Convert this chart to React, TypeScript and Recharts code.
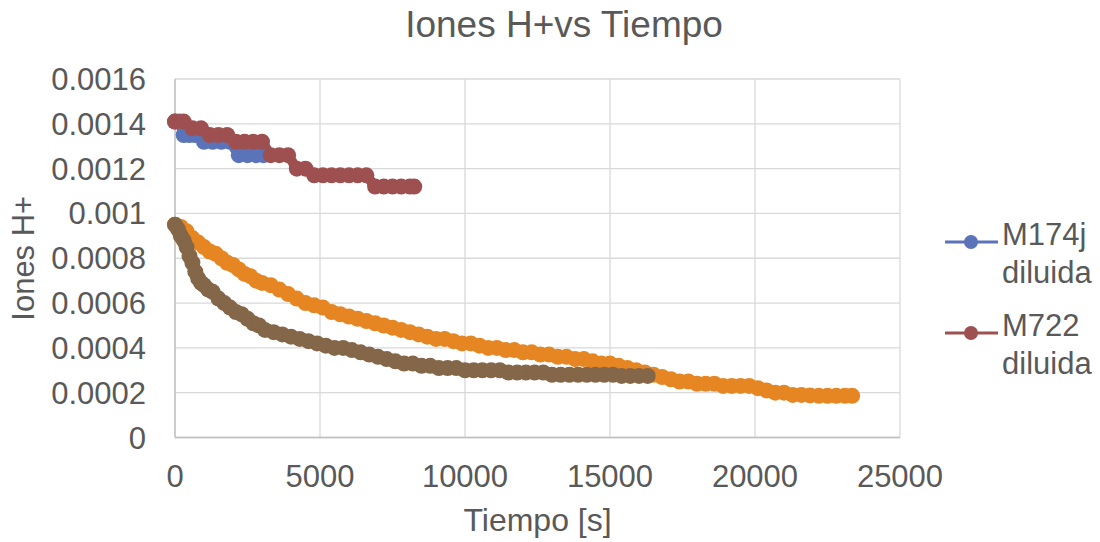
import React from 'react';
import { LineChart, Line, XAxis, YAxis, CartesianGrid } from 'recharts';

// tiempo [s] y concentracion de H+
const m174jTime = [0, 150, 300, 500, 700, 1000, 1300, 1600, 1900, 2200, 2500, 2800, 3050];
const m174jH = [0.00141, 0.00141, 0.00135, 0.00135, 0.00135, 0.00132, 0.00132, 0.00132, 0.00132, 0.00126, 0.00126, 0.00126, 0.00126];

const m722Time = [0, 300, 600, 900, 1200, 1500, 1800, 2100, 2400, 2700, 3000, 3300, 3600, 3900, 4200, 4500, 4800, 5100, 5400, 5700, 6000, 6300, 6600, 6900, 7200, 7500, 7800, 8100, 8250];
const m722H = [0.00141, 0.00141, 0.00138, 0.00138, 0.00135, 0.00135, 0.00135, 0.00132, 0.00132, 0.00132, 0.00132, 0.00126, 0.00126, 0.00126, 0.0012, 0.0012, 0.00117, 0.00117, 0.00117, 0.00117, 0.00117, 0.00117, 0.00117, 0.00112, 0.00112, 0.00112, 0.00112, 0.00112, 0.00112];

const orangeTime = [0, 200, 400, 600, 800, 1000, 1200, 1400, 1600, 1800, 2000, 2200, 2400, 2600, 2800, 3000, 3300, 3600, 3900, 4200, 4500, 4800, 5100, 5400, 5700, 6000, 6300, 6600, 6900, 7200, 7500, 7800, 8100, 8400, 8700, 9000, 9300, 9600, 9900, 10200, 10500, 10800, 11100, 11400, 11700, 12000, 12300, 12600, 12900, 13200, 13500, 13800, 14100, 14400, 14700, 15000, 15300, 15600, 15900, 16200, 16500, 16800, 17100, 17400, 17700, 18000, 18300, 18600, 18900, 19200, 19500, 19800, 20100, 20400, 20700, 21000, 21300, 21600, 21900, 22200, 22500, 22800, 23100, 23350];
const orangeH = [0.00095, 0.00094, 0.00092, 0.00089, 0.00087, 0.00085, 0.00083, 0.00082, 0.0008, 0.00078, 0.00077, 0.00075, 0.00073, 0.00072, 0.0007, 0.00069, 0.00068, 0.00066, 0.00064, 0.00062, 0.0006, 0.00059, 0.00058, 0.00056, 0.00055, 0.00054, 0.00053, 0.00052, 0.00051, 0.0005, 0.00049, 0.00048, 0.00047, 0.00046, 0.00045, 0.00044, 0.00044, 0.00043, 0.00042, 0.00042, 0.00041, 0.0004, 0.0004, 0.00039, 0.00039, 0.00038, 0.00038, 0.00037, 0.00037, 0.00036, 0.00036, 0.00035, 0.00035, 0.00034, 0.00033, 0.00033, 0.00032, 0.00031, 0.0003, 0.00029, 0.00028, 0.00027, 0.00026, 0.00025, 0.00025, 0.00024, 0.00024, 0.00024, 0.00023, 0.00023, 0.00023, 0.00023, 0.00022, 0.00021, 0.0002, 0.0002, 0.00019, 0.00019, 0.000188, 0.000186, 0.000186, 0.000186, 0.000186, 0.000186];

const brownTime = [0, 100, 200, 300, 400, 500, 600, 700, 800, 900, 1000, 1150, 1300, 1500, 1700, 1900, 2100, 2300, 2500, 2700, 2900, 3100, 3400, 3700, 4000, 4300, 4600, 4900, 5200, 5500, 5800, 6100, 6400, 6700, 7000, 7300, 7600, 7900, 8200, 8500, 8800, 9100, 9400, 9700, 10000, 10300, 10600, 10900, 11200, 11500, 11800, 12100, 12400, 12700, 13000, 13300, 13600, 13900, 14200, 14500, 14800, 15100, 15400, 15700, 16000, 16300];
const brownH = [0.00095, 0.00093, 0.0009, 0.00088, 0.00085, 0.00081, 0.00078, 0.00074, 0.00071, 0.00069, 0.00068, 0.00066, 0.00065, 0.00062, 0.0006, 0.00058, 0.00056, 0.00055, 0.00053, 0.00051, 0.0005, 0.00048, 0.00047, 0.00046, 0.00045, 0.00044, 0.00043, 0.00042, 0.00041, 0.0004, 0.0004, 0.00039, 0.00038, 0.00037, 0.00036, 0.00035, 0.00034, 0.00033, 0.00033, 0.00032, 0.00032, 0.00031, 0.00031, 0.00031, 0.0003, 0.0003, 0.0003, 0.0003, 0.0003, 0.00029, 0.00029, 0.00029, 0.00029, 0.00029, 0.00028, 0.00028, 0.00028, 0.00028, 0.00028, 0.00028, 0.00028, 0.00028, 0.000275, 0.000275, 0.000275, 0.000275];

const xTicks = [0, 5000, 10000, 15000, 20000, 25000];
const yTicks = [0, 0.0002, 0.0004, 0.0006, 0.0008, 0.001, 0.0012, 0.0014, 0.0016];

const toRows = (time: number[], h: number[]) => time.map((t, i) => ({ t, h: h[i] }));

const series = [
  { name: 'M174j diluida', color: '#5B73B8', data: toRows(m174jTime, m174jH), legend: true },
  { name: 'M722 diluida', color: '#9E5050', data: toRows(m722Time, m722H), legend: true },
  { name: 'serie 3', color: '#E68622', data: toRows(orangeTime, orangeH), legend: false },
  { name: 'serie 4', color: '#846648', data: toRows(brownTime, brownH), legend: false },
];

const FONT = '"Liberation Sans", Arial, sans-serif';
const TEXT = '#595959';

const LegendBox = () => (
  <div style={{ position: 'absolute', left: 944, top: 216, fontFamily: FONT, fontSize: 31, color: TEXT }}>
    {series.filter((s) => s.legend).map((s) => {
      const [first, second] = s.name.split(' ');
      return (
        <div key={s.name} style={{ display: 'flex', alignItems: 'flex-start', marginBottom: 15 }}>
          <svg width={58} height={38} style={{ flex: 'none' }}>
            <line x1={1} x2={54} y1={26} y2={26} stroke={s.color} strokeWidth={3} />
            <circle cx={27} cy={26} r={7} fill={s.color} />
          </svg>
          <div style={{ lineHeight: '38px' }}>
            <div>{first}</div>
            <div>{second}</div>
          </div>
        </div>
      );
    })}
  </div>
);

export default function App() {
  return (
    <div style={{ position: 'absolute', left: 0, top: 0, width: 1100, height: 542, background: '#fff' }}>
      <div
        style={{
          position: 'absolute',
          left: 14,
          top: 6,
          width: 1100,
          textAlign: 'center',
          fontFamily: FONT,
          fontSize: 37,
          lineHeight: '37px',
          color: TEXT,
        }}
      >
        Iones H+vs Tiempo
      </div>
      <LineChart width={1100} height={542} margin={{ top: 79, right: 200, bottom: 0, left: 0 }}>
        <CartesianGrid stroke="#D9D9D9" strokeWidth={1.3} />
        <XAxis
          type="number"
          dataKey="t"
          domain={[0, 25000]}
          ticks={xTicks}
          height={104.5}
          stroke="#BFBFBF"
          strokeWidth={1.3}
          tickLine={false}
          tickSize={0}
          tickMargin={27}
          tick={{ fill: TEXT, fontSize: 31, fontFamily: FONT }}
          label={{ value: 'Tiempo [s]', position: 'insideBottom', offset: 11, fill: TEXT, fontSize: 32, fontFamily: FONT }}
        />
        <YAxis
          type="number"
          dataKey="h"
          domain={[0, 0.0016]}
          ticks={yTicks}
          width={175}
          stroke="#BFBFBF"
          strokeWidth={1.3}
          tickLine={false}
          tickSize={0}
          tickMargin={29}
          tickFormatter={(v: number) => String(v)}
          tick={{ fill: TEXT, fontSize: 31, fontFamily: FONT }}
          label={{
            value: 'Iones H+',
            angle: -90,
            position: 'insideLeft',
            offset: 23,
            fill: TEXT,
            fontSize: 31,
            fontFamily: FONT,
            style: { textAnchor: 'middle' },
          }}
        />
        {series.map((s) => (
          <Line
            key={s.name}
            data={s.data}
            dataKey="h"
            name={s.name}
            type="linear"
            stroke={s.color}
            strokeWidth={10}
            strokeLinejoin="round"
            dot={{ r: 8, fill: s.color, stroke: 'none' }}
            activeDot={false}
            legendType={s.legend ? 'line' : 'none'}
            isAnimationActive={false}
          />
        ))}
      </LineChart>
      <LegendBox />
    </div>
  );
}
